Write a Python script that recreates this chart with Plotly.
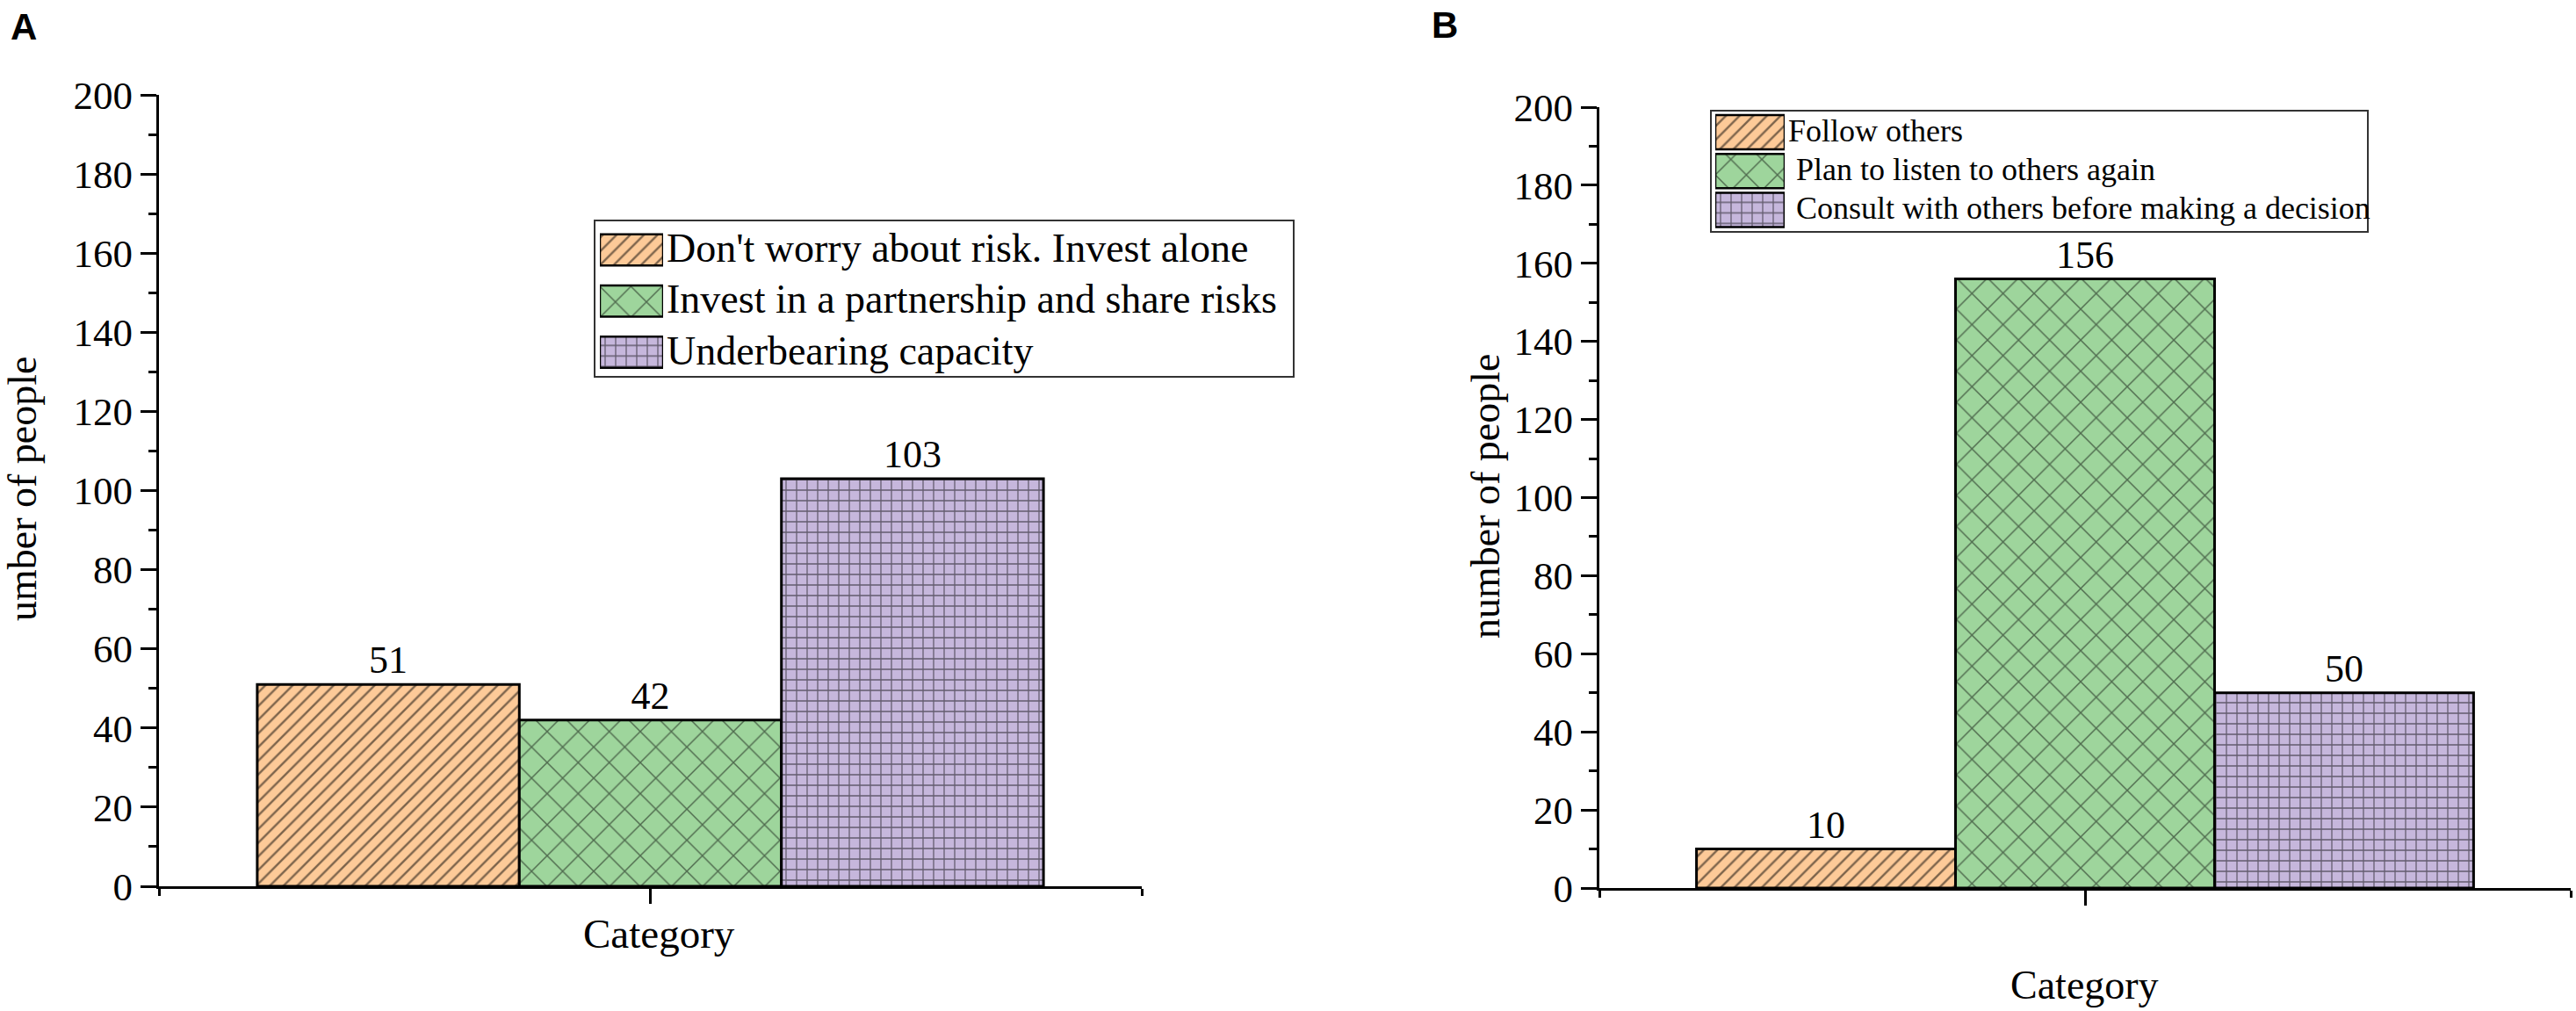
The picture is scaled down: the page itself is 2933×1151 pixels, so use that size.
import plotly.graph_objects as go

W, H = 2933, 1151

# data
CATEGORY = ["Category"]
A_NAMES = [
    "Don't worry about risk. Invest alone",
    "Invest in a partnership and share risks",
    "Underbearing capacity",
]
A_VALUES = [51, 42, 103]
B_NAMES = [
    "Follow others",
    "Plan to listen to others again",
    "Consult with others before making a decision",
]
B_VALUES = [10, 156, 50]
Y_TICKS = list(range(0, 201, 20))

# styles
FILLS = ["#FDCA98", "#9ED59C", "#C6B7DC"]
HATCH = ["/", "x", "+"]
HATCH_SIZE = [11, 25, 12]
HATCH_SOLID = [0.22, 0.11, 0.2]
SERIF = "Liberation Serif"


def px(x):
    return x / W


def py(y):
    return 1 - y / H


def pattern(i):
    return dict(shape=HATCH[i], fgcolor="black", bgcolor=FILLS[i],
                size=HATCH_SIZE[i], solidity=HATCH_SOLID[i])


fig = go.Figure()

xpos = list(range(len(CATEGORY)))

# main bars
for names, values, xa, ya in [(A_NAMES, A_VALUES, "x", "y"), (B_NAMES, B_VALUES, "x2", "y2")]:
    for i, (n, v) in enumerate(zip(names, values)):
        fig.add_trace(go.Bar(
            x=xpos, y=[v], name=n, text=[str(v)], textposition="outside",
            textfont=dict(family=SERIF, size=44, color="black"),
            cliponaxis=False,
            marker=dict(color=FILLS[i], line=dict(color="black", width=3), pattern=pattern(i)),
            xaxis=xa, yaxis=ya, showlegend=False,
        ))

# custom legends with hatched swatches
legends = [
    # names, xaxis, yaxis, swatch x0, x1, row top, row pitch, swatch height, text x, font, box
    (A_NAMES, "x3", "y3", 683, 755, 255.3, 58.3, 35.6, 757, 46, (677, 251, 1473, 429)),
    (B_NAMES, "x4", "y4", 1953, 2032, 128.4, 44.25, 39, 2034, 36, (1948, 126, 2696, 264)),
]

annotations = []
shapes = []
axis_extra = {}
for k, (names, xa, ya, sx0, sx1, top, pitch, sh, tx, fs, box) in enumerate(legends):
    for i, n in enumerate(names):
        fig.add_trace(go.Bar(
            y=[n], x=[1], orientation="h", offsetgroup="legend", width=sh / pitch,
            marker=dict(color=FILLS[i], line=dict(color="black", width=2.5), pattern=pattern(i)),
            xaxis=xa, yaxis=ya, showlegend=False, hoverinfo="skip",
        ))
        label = n if (k == 0 or i == 0) else "\u00a0" + n
        annotations.append(dict(
            text=label, x=px(tx), y=py(top + (i + 0.5) * pitch - 2),
            xref="paper", yref="paper", xanchor="left", yanchor="middle",
            showarrow=False, font=dict(family=SERIF, size=fs, color="black"),
        ))
    bottom = top + 3 * pitch
    axis_extra["xaxis%d" % (k + 3)] = dict(domain=[px(sx0), px(sx1)], range=[0, 1],
                                           visible=False, anchor="y%d" % (k + 3),
                                           automargin=False)
    axis_extra["yaxis%d" % (k + 3)] = dict(domain=[py(bottom), py(top)], type="category",
                                           categoryorder="array", categoryarray=names,
                                           range=[2.5, -0.5], visible=False,
                                           anchor="x%d" % (k + 3), automargin=False)
    x0, y0, x1, y1 = box
    shapes.append(dict(type="rect", xref="paper", yref="paper",
                       x0=px(x0), x1=px(x1), y0=py(y1), y1=py(y0),
                       line=dict(color="#333333", width=2)))

# titles and panel letters
extra = [
    dict(text="umber of people", x=px(25), y=py(557), textangle=-90,
         font=dict(family=SERIF, size=46, color="black")),
    dict(text="number of people", x=px(1691), y=py(565), textangle=-90,
         font=dict(family=SERIF, size=46, color="black")),
    dict(text=CATEGORY[0], x=px(750), y=py(1063), font=dict(family=SERIF, size=47, color="black")),
    dict(text=CATEGORY[0], x=px(2373), y=py(1121), font=dict(family=SERIF, size=46, color="black")),
    dict(text="<b>A</b>", x=px(27), y=py(31), font=dict(family="Liberation Sans", size=42, color="black")),
    dict(text="<b>B</b>", x=px(1645), y=py(29), font=dict(family="Liberation Sans", size=42, color="black")),
]
for a in extra:
    a.update(xref="paper", yref="paper", showarrow=False, xanchor="center", yanchor="middle")
annotations += extra


def xaxis(d0, d1, anchor):
    return dict(domain=[px(d0), px(d1)], range=[-0.5, 0.5], anchor=anchor, automargin=False,
                showline=True, linecolor="black", linewidth=3,
                ticks="outside", tickmode="array", tickvals=xpos, ticklen=17, tickwidth=3,
                tickcolor="black", showticklabels=False, showgrid=False, zeroline=False,
                minor=dict(tickmode="array", tickvals=[-0.5, 0.5], ticks="outside",
                           ticklen=8, tickwidth=3, tickcolor="black", showgrid=False))


def yaxis(d0, d1, anchor):
    return dict(domain=[py(d0), py(d1)], range=[0, 200], anchor=anchor, automargin=False,
                showline=True, linecolor="black", linewidth=3,
                ticks="outside", tickmode="array", tickvals=Y_TICKS, ticklen=18, tickwidth=3,
                tickcolor="black", tickfont=dict(family=SERIF, size=45, color="black"),
                showgrid=False, zeroline=False,
                minor=dict(dtick=10, ticks="outside", ticklen=9, tickwidth=3,
                           tickcolor="black", showgrid=False))


fig.update_layout(
    width=W, height=H, autosize=False,
    margin=dict(l=0, r=0, t=0, b=0, pad=0, autoexpand=False),
    showlegend=False,
    paper_bgcolor="white", plot_bgcolor="white",
    font=dict(family=SERIF, color="black"),
    barmode="group", bargap=0.2, bargroupgap=0,
    xaxis=xaxis(181, 1300, "y"),
    yaxis=yaxis(1009, 108, "x"),
    xaxis2=xaxis(1821, 2927, "y2"),
    yaxis2=yaxis(1011, 122, "x2"),
    annotations=annotations,
    shapes=shapes,
    **axis_extra,
)

fig.write_html("out.html", config={"displayModeBar": False},
               post_script="document.body.style.margin='0';")
